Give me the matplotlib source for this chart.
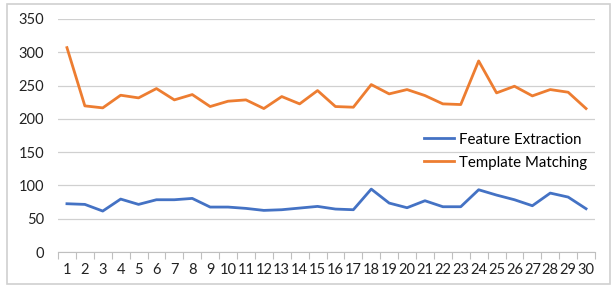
import matplotlib
matplotlib.use("Agg")
import matplotlib.pyplot as plt
from matplotlib.patches import Rectangle
import numpy as np

categories = [str(i) for i in range(1, 31)]
feature_extraction = [72.5, 71.5, 61.5, 79.5, 71.5, 78.5, 78.5, 80.5, 67.5, 67.5,
                      65.5, 62.5, 63.5, 66, 68.5, 64.5, 63.5, 94.5, 73.5, 66.5,
                      77, 68, 68, 93.5, 85.5, 78.5, 69.5, 88.5, 82.5, 65]
template_matching = [307, 219.5, 216.5, 235.5, 231.5, 245.5, 228.5, 236.5, 218.5, 226.5,
                     228.5, 215.5, 233.5, 222.5, 242.5, 218.5, 217.5, 251.5, 237.5, 244,
                     235, 222.5, 221.5, 287, 239, 249, 234.5, 244, 240, 215.5]
y_ticks = [0, 50, 100, 150, 200, 250, 300, 350]

plt.rcParams['font.family'] = ['Lato', 'DejaVu Sans']

fig = plt.figure(figsize=(6.13, 2.87), dpi=100)
ax = fig.add_axes([58/613, 1 - 252/287, (595-58)/613, (252-19)/287])

x = np.arange(1, len(categories) + 1)
ax.plot(x, feature_extraction, color='#4472C4', lw=2, label='Feature Extraction')
ax.plot(x, template_matching, color='#ED7D31', lw=2, label='Template Matching')

ax.set_xlim(0.5, len(categories) + 0.5)
ax.set_ylim(0, 350)
ax.set_yticks(y_ticks)
ax.set_yticklabels([str(t) for t in y_ticks], fontsize=10.5, color='#222222')
ax.set_xticks(x)
ax.set_xticklabels(categories, fontsize=10.5, color='#222222')
ax.tick_params(axis='x', length=0, pad=8)
ax.tick_params(axis='y', length=0, pad=10)
ax.set_xticks(np.arange(0.5, len(categories) + 1, 1), minor=True)
ax.tick_params(axis='x', which='minor', length=5, color='#BFBFBF', width=0.8)
ax.grid(axis='y', color='#D0D0D0', lw=0.9)
ax.set_axisbelow(True)
for s in ['top', 'right', 'left']:
    ax.spines[s].set_visible(False)
ax.spines['bottom'].set_color('#BFBFBF')

leg = ax.legend(loc='upper left', bbox_to_anchor=(0.657, 0.57), frameon=False,
                fontsize=10.8, handlelength=2.0, handletextpad=0.3, labelspacing=0.6)

fig.patches.append(Rectangle((7/613, 3/287), 603/613, 280/287, transform=fig.transFigure,
                             fill=False, edgecolor='#D0D0D0', lw=1.2))

fig.savefig('out.png', dpi=100)
